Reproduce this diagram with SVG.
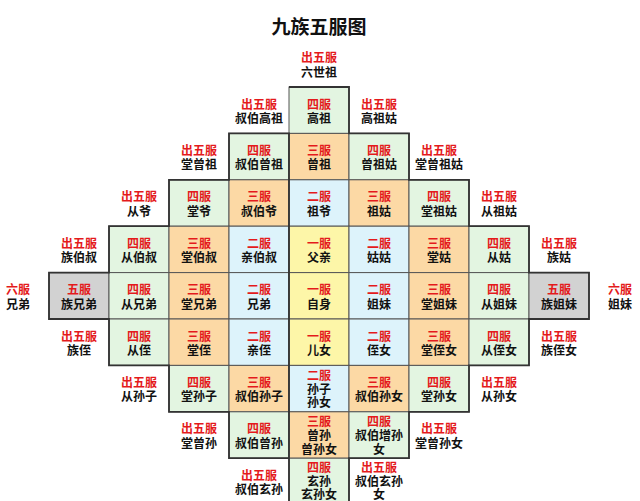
<svg xmlns="http://www.w3.org/2000/svg" width="640" height="501" viewBox="0 0 640 501">
<style>
text{font-family:"Noto Sans CJK SC","Liberation Sans",sans-serif;font-weight:bold;text-anchor:middle;font-size:12px}
.t{font-size:19px;fill:#111}
.r{fill:#e41a1c}
.k{fill:#111}
.c{stroke:#555;stroke-width:1}
.g{fill:#e3f5e1}
.o{fill:#fcd9a5}
.b{fill:#ddf3fb}
.y{fill:#fdf6a8}
.s{fill:#d2d2d2}
.ol{fill:none;stroke:#333;stroke-width:1.8}
</style>
<rect width="640" height="501" fill="#fff"/>
<text class="t" x="319" y="34">九族五服图</text>

<g id="r-1c0"><text class="r" x="319" y="62.1">出五服</text><text class="k" x="319" y="76.6">六世祖</text></g>

<g id="r0cm1"><text class="r" x="259" y="108.5">出五服</text><text class="k" x="259" y="123">叔伯高祖</text></g>
<g id="r0c0"><rect class="c g" x="289" y="87" width="60" height="46.4"/><text class="r" x="319" y="108.5">四服</text><text class="k" x="319" y="123">高祖</text></g>
<g id="r0c1"><text class="r" x="379" y="108.5">出五服</text><text class="k" x="379" y="123">高祖姑</text></g>

<g id="r1cm2"><text class="r" x="199" y="154.9">出五服</text><text class="k" x="199" y="169.4">堂曾祖</text></g>
<g id="r1cm1"><rect class="c g" x="229" y="133.4" width="60" height="46.4"/><text class="r" x="259" y="154.9">四服</text><text class="k" x="259" y="169.4">叔伯曾祖</text></g>
<g id="r1c0"><rect class="c o" x="289" y="133.4" width="60" height="46.4"/><text class="r" x="319" y="154.9">三服</text><text class="k" x="319" y="169.4">曾祖</text></g>
<g id="r1c1"><rect class="c g" x="349" y="133.4" width="60" height="46.4"/><text class="r" x="379" y="154.9">四服</text><text class="k" x="379" y="169.4">曾祖姑</text></g>
<g id="r1c2"><text class="r" x="439" y="154.9">出五服</text><text class="k" x="439" y="169.4">堂曾祖姑</text></g>

<g id="r2cm3"><text class="r" x="139" y="201.3">出五服</text><text class="k" x="139" y="215.8">从爷</text></g>
<g id="r2cm2"><rect class="c g" x="169" y="179.8" width="60" height="46.4"/><text class="r" x="199" y="201.3">四服</text><text class="k" x="199" y="215.8">堂爷</text></g>
<g id="r2cm1"><rect class="c o" x="229" y="179.8" width="60" height="46.4"/><text class="r" x="259" y="201.3">三服</text><text class="k" x="259" y="215.8">叔伯爷</text></g>
<g id="r2c0"><rect class="c b" x="289" y="179.8" width="60" height="46.4"/><text class="r" x="319" y="201.3">二服</text><text class="k" x="319" y="215.8">祖爷</text></g>
<g id="r2c1"><rect class="c o" x="349" y="179.8" width="60" height="46.4"/><text class="r" x="379" y="201.3">三服</text><text class="k" x="379" y="215.8">祖姑</text></g>
<g id="r2c2"><rect class="c g" x="409" y="179.8" width="60" height="46.4"/><text class="r" x="439" y="201.3">四服</text><text class="k" x="439" y="215.8">堂祖姑</text></g>
<g id="r2c3"><text class="r" x="499" y="201.3">出五服</text><text class="k" x="499" y="215.8">从祖姑</text></g>

<g id="r3cm4"><text class="r" x="79" y="247.7">出五服</text><text class="k" x="79" y="262.2">族伯叔</text></g>
<g id="r3cm3"><rect class="c g" x="109" y="226.2" width="60" height="46.4"/><text class="r" x="139" y="247.7">四服</text><text class="k" x="139" y="262.2">从伯叔</text></g>
<g id="r3cm2"><rect class="c o" x="169" y="226.2" width="60" height="46.4"/><text class="r" x="199" y="247.7">三服</text><text class="k" x="199" y="262.2">堂伯叔</text></g>
<g id="r3cm1"><rect class="c b" x="229" y="226.2" width="60" height="46.4"/><text class="r" x="259" y="247.7">二服</text><text class="k" x="259" y="262.2">亲伯叔</text></g>
<g id="r3c0"><rect class="c y" x="289" y="226.2" width="60" height="46.4"/><text class="r" x="319" y="247.7">一服</text><text class="k" x="319" y="262.2">父亲</text></g>
<g id="r3c1"><rect class="c b" x="349" y="226.2" width="60" height="46.4"/><text class="r" x="379" y="247.7">二服</text><text class="k" x="379" y="262.2">姑姑</text></g>
<g id="r3c2"><rect class="c o" x="409" y="226.2" width="60" height="46.4"/><text class="r" x="439" y="247.7">三服</text><text class="k" x="439" y="262.2">堂姑</text></g>
<g id="r3c3"><rect class="c g" x="469" y="226.2" width="60" height="46.4"/><text class="r" x="499" y="247.7">四服</text><text class="k" x="499" y="262.2">从姑</text></g>
<g id="r3c4"><text class="r" x="559" y="247.7">出五服</text><text class="k" x="559" y="262.2">族姑</text></g>

<g id="r4cm5"><text class="r" x="18" y="294.1">六服</text><text class="k" x="18" y="308.6">兄弟</text></g>
<g id="r4cm4"><rect class="c s" x="49" y="272.6" width="60" height="46.4"/><text class="r" x="79" y="294.1">五服</text><text class="k" x="79" y="308.6">族兄弟</text></g>
<g id="r4cm3"><rect class="c g" x="109" y="272.6" width="60" height="46.4"/><text class="r" x="139" y="294.1">四服</text><text class="k" x="139" y="308.6">从兄弟</text></g>
<g id="r4cm2"><rect class="c o" x="169" y="272.6" width="60" height="46.4"/><text class="r" x="199" y="294.1">三服</text><text class="k" x="199" y="308.6">堂兄弟</text></g>
<g id="r4cm1"><rect class="c b" x="229" y="272.6" width="60" height="46.4"/><text class="r" x="259" y="294.1">二服</text><text class="k" x="259" y="308.6">兄弟</text></g>
<g id="r4c0"><rect class="c y" x="289" y="272.6" width="60" height="46.4"/><text class="r" x="319" y="294.1">一服</text><text class="k" x="319" y="308.6">自身</text></g>
<g id="r4c1"><rect class="c b" x="349" y="272.6" width="60" height="46.4"/><text class="r" x="379" y="294.1">二服</text><text class="k" x="379" y="308.6">姐妹</text></g>
<g id="r4c2"><rect class="c o" x="409" y="272.6" width="60" height="46.4"/><text class="r" x="439" y="294.1">三服</text><text class="k" x="439" y="308.6">堂姐妹</text></g>
<g id="r4c3"><rect class="c g" x="469" y="272.6" width="60" height="46.4"/><text class="r" x="499" y="294.1">四服</text><text class="k" x="499" y="308.6">从姐妹</text></g>
<g id="r4c4"><rect class="c s" x="529" y="272.6" width="60" height="46.4"/><text class="r" x="559" y="294.1">五服</text><text class="k" x="559" y="308.6">族姐妹</text></g>
<g id="r4c5"><text class="r" x="620" y="294.1">六服</text><text class="k" x="620" y="308.6">姐妹</text></g>

<g id="r5cm4"><text class="r" x="79" y="340.5">出五服</text><text class="k" x="79" y="355">族侄</text></g>
<g id="r5cm3"><rect class="c g" x="109" y="319" width="60" height="46.4"/><text class="r" x="139" y="340.5">四服</text><text class="k" x="139" y="355">从侄</text></g>
<g id="r5cm2"><rect class="c o" x="169" y="319" width="60" height="46.4"/><text class="r" x="199" y="340.5">三服</text><text class="k" x="199" y="355">堂侄</text></g>
<g id="r5cm1"><rect class="c b" x="229" y="319" width="60" height="46.4"/><text class="r" x="259" y="340.5">二服</text><text class="k" x="259" y="355">亲侄</text></g>
<g id="r5c0"><rect class="c y" x="289" y="319" width="60" height="46.4"/><text class="r" x="319" y="340.5">一服</text><text class="k" x="319" y="355">儿女</text></g>
<g id="r5c1"><rect class="c b" x="349" y="319" width="60" height="46.4"/><text class="r" x="379" y="340.5">二服</text><text class="k" x="379" y="355">侄女</text></g>
<g id="r5c2"><rect class="c o" x="409" y="319" width="60" height="46.4"/><text class="r" x="439" y="340.5">三服</text><text class="k" x="439" y="355">堂侄女</text></g>
<g id="r5c3"><rect class="c g" x="469" y="319" width="60" height="46.4"/><text class="r" x="499" y="340.5">四服</text><text class="k" x="499" y="355">从侄女</text></g>
<g id="r5c4"><text class="r" x="559" y="340.5">出五服</text><text class="k" x="559" y="355">族侄女</text></g>

<g id="r6cm3"><text class="r" x="139" y="386.9">出五服</text><text class="k" x="139" y="401.4">从孙子</text></g>
<g id="r6cm2"><rect class="c g" x="169" y="365.4" width="60" height="46.4"/><text class="r" x="199" y="386.9">四服</text><text class="k" x="199" y="401.4">堂孙子</text></g>
<g id="r6cm1"><rect class="c o" x="229" y="365.4" width="60" height="46.4"/><text class="r" x="259" y="386.9">三服</text><text class="k" x="259" y="401.4">叔伯孙子</text></g>
<g id="r6c0"><rect class="c b" x="289" y="365.4" width="60" height="46.4"/><text class="r" x="319" y="379.9">二服</text><text class="k" x="319" y="393.9">孙子</text><text class="k" x="319" y="407.4">孙女</text></g>
<g id="r6c1"><rect class="c o" x="349" y="365.4" width="60" height="46.4"/><text class="r" x="379" y="386.9">三服</text><text class="k" x="379" y="401.4">叔伯孙女</text></g>
<g id="r6c2"><rect class="c g" x="409" y="365.4" width="60" height="46.4"/><text class="r" x="439" y="386.9">四服</text><text class="k" x="439" y="401.4">堂孙女</text></g>
<g id="r6c3"><text class="r" x="499" y="386.9">出五服</text><text class="k" x="499" y="401.4">从孙女</text></g>

<g id="r7cm2"><text class="r" x="199" y="433.3">出五服</text><text class="k" x="199" y="447.8">堂曾孙</text></g>
<g id="r7cm1"><rect class="c g" x="229" y="411.8" width="60" height="46.4"/><text class="r" x="259" y="433.3">四服</text><text class="k" x="259" y="447.8">叔伯曾孙</text></g>
<g id="r7c0"><rect class="c o" x="289" y="411.8" width="60" height="46.4"/><text class="r" x="319" y="426.3">三服</text><text class="k" x="319" y="440.3">曾孙</text><text class="k" x="319" y="453.8">曾孙女</text></g>
<g id="r7c1"><rect class="c g" x="349" y="411.8" width="60" height="46.4"/><text class="r" x="379" y="426.3">四服</text><text class="k" x="379" y="440.3">叔伯增孙</text><text class="k" x="379" y="453.8">女</text></g>
<g id="r7c2"><text class="r" x="439" y="433.3">出五服</text><text class="k" x="439" y="447.8">堂曾孙女</text></g>

<g id="r8cm1"><text class="r" x="259" y="479.7">出五服</text><text class="k" x="259" y="494.2">叔伯玄孙</text></g>
<g id="r8c0"><rect class="c g" x="289" y="458.2" width="60" height="46.4"/><text class="r" x="319" y="472">四服</text><text class="k" x="319" y="485.8">玄孙</text><text class="k" x="319" y="499">玄孙女</text></g>
<g id="r8c1"><text class="r" x="379" y="472">出五服</text><text class="k" x="379" y="485.8">叔伯玄孙</text><text class="k" x="379" y="499">女</text></g>

<g id="outline">
<path class="ol" d="M289,87 H349 V133.4 H409 V179.8 H469 V226.2 H529 V272.6 H589 V319 H529 V365.4 H469 V411.8 H409 V458.2 H349 V506 M289,506 V458.2 H229 V411.8 H169 V365.4 H109 V319 H49 V272.6 H109 V226.2 H169 V179.8 H229 V133.4 H289 Z"/>
</g>
</svg>
